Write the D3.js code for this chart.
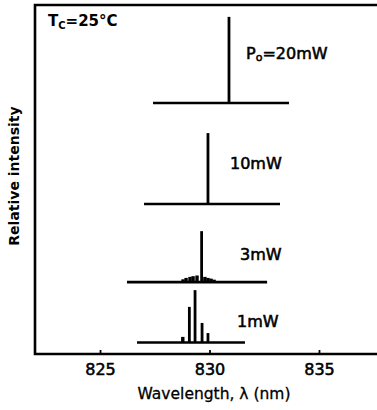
<!DOCTYPE html>
<html>
<head>
<meta charset="utf-8">
<script src="https://cdn.jsdelivr.net/npm/d3@7"></script>
<style>
  body { margin: 0; background: #fff; }
  svg { display: block; }
  text { font-family: "DejaVu Sans", sans-serif; fill: #000; }
  .med { stroke: #000; stroke-width: 0.55px; }
</style>
</head>
<body>
<svg id="chart" width="377" height="410"></svg>
<script>
// wavelength ticks (nm)
const tickValues = [825, 830, 835];

// one entry per spectrum, top to bottom
const powerLabels = ["20mW", "10mW", "3mW", "1mW"];
const baselineLevels = [71.9, 43.0, 20.6, 3.3];      // vertical offset of each trace
const baselineStart = [827.42, 827.01, 826.23, 826.69];
const baselineEnd = [833.63, 833.22, 832.63, 831.62];

// longitudinal modes of each spectrum
const modes20mW = [830.89];
const heights20mW = [24.7];
const modes10mW = [829.93];
const heights10mW = [20.3];
const modes3mW = [828.79, 828.93, 829.11, 829.25, 829.43, 829.64, 829.79, 829.93, 830.07, 830.21];
const heights3mW = [0.8, 1.2, 1.5, 1.7, 1.9, 14.6, 1.5, 1.2, 1.0, 0.7];
const modes1mW = [828.78, 829.08, 829.34, 829.66, 829.93];
const heights1mW = [1.6, 10.2, 15.0, 5.6, 2.7];

const modeWavelengths = [modes20mW, modes10mW, modes3mW, modes1mW];
const modeHeights = [heights20mW, heights10mW, heights3mW, heights1mW];

const svg = d3.select("#chart");
const m = { left: 35, right: 377, top: 5, bottom: 354 };

const x = d3.scaleLinear().domain([822.03, 837.65]).range([m.left, m.right]);
const y = d3.scaleLinear().domain([0, 100]).range([m.bottom, m.top]);

// frame: left, top and bottom lines
const frame = svg.append("g").attr("stroke", "#000").attr("stroke-width", 2.6).attr("fill", "none");
frame.append("path").attr("d", `M${m.right},${m.top}H${m.left}V${m.bottom}H${m.right}`);

// bottom axis with inward ticks
const xAxis = d3.axisBottom(x).tickValues(tickValues).tickSize(-4).tickPadding(10);
const axisG = svg.append("g").attr("transform", `translate(0,${m.bottom})`).call(xAxis);
axisG.select(".domain").remove();
axisG.selectAll(".tick line").attr("stroke", "#000").attr("stroke-width", 1.8);
axisG.selectAll(".tick text")
    .attr("class", "med")
    .attr("font-family", "DejaVu Sans")
    .attr("font-size", 16);

// spectra
const traces = svg.append("g").attr("stroke", "#000").attr("fill", "none");
powerLabels.forEach((p, i) => {
    let base = baselineLevels[i];
    traces.append("line")
        .attr("x1", x(baselineStart[i])).attr("x2", x(baselineEnd[i]))
        .attr("y1", y(base)).attr("y2", y(base))
        .attr("stroke-width", 2.6);
    modeWavelengths[i].forEach((w, j) => {
        traces.append("line")
            .attr("x1", x(w)).attr("x2", x(w))
            .attr("y1", y(base)).attr("y2", y(base + modeHeights[i][j]))
            .attr("stroke-width", modeHeights[i][j] < 2 ? 3.4 : 2.8);
    });
});

// power labels (left x, baseline y in px)
const labelPos = [[246, 59], [230, 169], [240, 260], [237, 327]];
powerLabels.forEach((p, i) => {
    let t = svg.append("text")
        .attr("class", "med")
        .attr("x", labelPos[i][0]).attr("y", labelPos[i][1])
        .attr("font-size", 16);
    if (i === 0) {
        t.append("tspan").text("P");
        t.append("tspan").attr("font-size", 11).attr("dy", 2).text("o");
        t.append("tspan").attr("dy", -2).text("=" + p);
    } else {
        t.text(p);
    }
});

// temperature note
const tc = svg.append("text").attr("x", 48).attr("y", 26)
    .attr("font-size", 15).attr("font-weight", "bold");
tc.append("tspan").text("T");
tc.append("tspan").attr("font-size", 10).attr("dy", 3).text("C");
tc.append("tspan").attr("dy", -3).text("=25°C");

// axis titles
svg.append("text")
    .attr("class", "med")
    .style("stroke-width", "0.3px")
    .attr("x", 214).attr("y", 399)
    .attr("text-anchor", "middle")
    .attr("font-size", 15.5)
    .text("Wavelength, λ (nm)");

svg.append("text")
    .attr("transform", "translate(19,176) rotate(-90)")
    .attr("text-anchor", "middle")
    .attr("font-size", 14)
    .attr("font-weight", "bold")
    .text("Relative intensity");
</script>
</body>
</html>
